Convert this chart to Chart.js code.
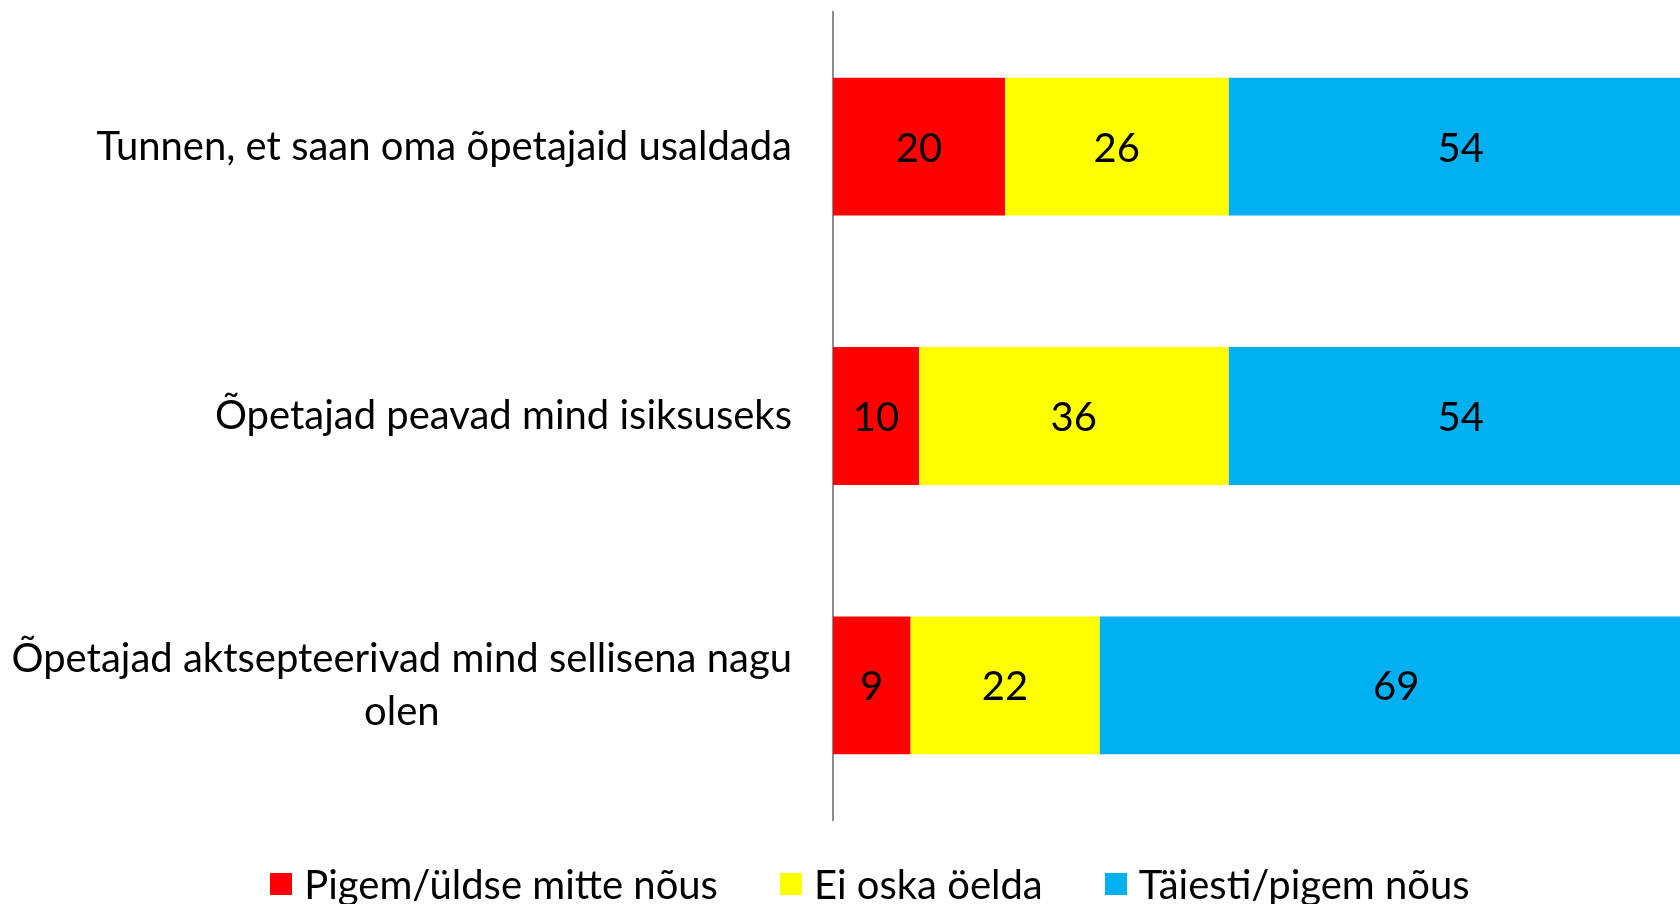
<!DOCTYPE html>
<html lang="et">
<head>
<meta charset="utf-8">
<title>Õpetajad</title>
<script src="https://cdn.jsdelivr.net/npm/chart.js@4.4.1/dist/chart.umd.min.js"></script>
<style>
  html, body { margin: 0; padding: 0; background: #fff; overflow: hidden; }
  #wrap { position: relative; width: 1693px; height: 904px; }
  #legend {
    position: absolute; left: 0; top: 860px; width: 1740px;
    display: flex; justify-content: center; align-items: center;
    font: 40px Lato, sans-serif; color: #000; white-space: nowrap;
  }
  .legend-item { display: flex; align-items: center; margin: 0 31px; }
  .legend-box { width: 22px; height: 22px; margin-right: 12px; }
</style>
</head>
<body>
<div id="wrap">
  <canvas id="stacked-bar-chart"></canvas>
  <div id="legend"></div>
</div>
<script>
// Data
const categories = [
  ['Tunnen, et saan oma õpetajaid usaldada'],
  ['Õpetajad peavad mind isiksuseks'],
  ['Õpetajad aktsepteerivad mind sellisena nagu', 'olen']
];
const seriesNames = ['Pigem/üldse mitte nõus', 'Ei oska öelda', 'Täiesti/pigem nõus'];
const disagree = [20, 10, 9];
const neutral = [26, 36, 22];
const agree = [54, 54, 69];

const seriesColors = ['#ff0000', '#ffff00', '#00b0f0'];
const FONT = '40px Lato, sans-serif';
const LINE_HEIGHT = 53;
const LABEL_GAP = 41;
const AXIS_LEFT = 833;

// category labels: block right-aligned to the axis, lines centred inside the block
const categoryLabels = {
  id: 'categoryLabels',
  afterDraw(chart) {
    const { ctx } = chart;
    const y = chart.scales.y;
    ctx.save();
    ctx.font = FONT;
    ctx.fillStyle = '#000';
    ctx.textAlign = 'center';
    ctx.textBaseline = 'middle';
    categories.forEach((lines, i) => {
      const center = y.getPixelForTick(i);
      const blockWidth = Math.max(...lines.map((line) => ctx.measureText(line).width));
      const x = y.right - LABEL_GAP - blockWidth / 2;
      lines.forEach((line, j) => {
        ctx.fillText(line, x, center + (j - (lines.length - 1) / 2) * LINE_HEIGHT);
      });
    });
    ctx.restore();
  }
};

// value labels in the middle of every segment
const valueLabels = {
  id: 'valueLabels',
  afterDatasetsDraw(chart) {
    const { ctx } = chart;
    ctx.save();
    ctx.font = FONT;
    ctx.fillStyle = '#000';
    ctx.textAlign = 'center';
    ctx.textBaseline = 'middle';
    chart.data.datasets.forEach((dataset, i) => {
      chart.getDatasetMeta(i).data.forEach((bar, j) => {
        const { x, y } = bar.getCenterPoint();
        ctx.fillText(String(dataset.data[j]), x, y + 2);
      });
    });
    ctx.restore();
  }
};

const seriesValues = [disagree, neutral, agree];

new Chart(document.getElementById('stacked-bar-chart'), {
  type: 'bar',
  data: {
    labels: categories,
    datasets: seriesValues.map((values, i) => ({
      label: seriesNames[i],
      data: values,
      backgroundColor: seriesColors[i],
      borderWidth: 0,
      barPercentage: 1,
      categoryPercentage: 0.512
    }))
  },
  options: {
    indexAxis: 'y',
    responsive: true,
    maintainAspectRatio: false,
    animation: false,
    layout: { padding: { top: 12, bottom: 84, left: 0, right: 0 } },
    plugins: {
      legend: { display: false },
      tooltip: { enabled: false }
    },
    scales: {
      x: { stacked: true, min: 0, max: 100, display: false },
      y: {
        stacked: true,
        grid: { display: false, drawTicks: false },
        ticks: { display: false },
        border: { display: true, color: '#8c8c8c', width: 2 },
        afterFit: (scale) => { scale.width = AXIS_LEFT; }
      }
    }
  },
  plugins: [categoryLabels, valueLabels]
});

// legend
const legend = document.getElementById('legend');
seriesNames.forEach((name, i) => {
  const item = document.createElement('span');
  item.className = 'legend-item';
  const box = document.createElement('span');
  box.className = 'legend-box';
  box.style.background = seriesColors[i];
  const text = document.createElement('span');
  text.textContent = name;
  item.appendChild(box);
  item.appendChild(text);
  legend.appendChild(item);
});
</script>
</body>
</html>
